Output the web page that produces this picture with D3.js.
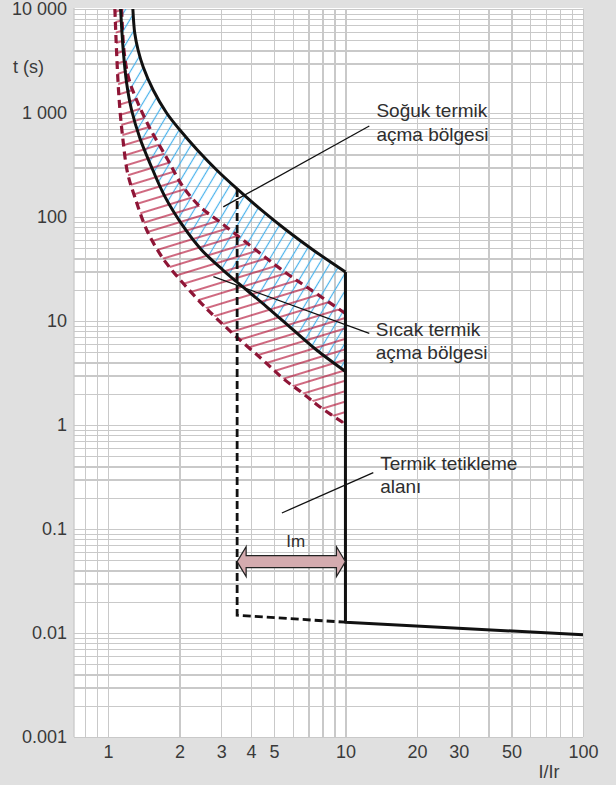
<!DOCTYPE html>
<html>
<head>
<meta charset="utf-8">
<title>Termik açma eğrisi</title>
<script src="https://cdn.jsdelivr.net/npm/d3@7/dist/d3.min.js"></script>
<style>
    body { margin: 0; background: #e0e0e0; }
    svg { display: block; font-family: "Liberation Sans", Arial, sans-serif; }
    .grid line { stroke: #c9c9c9; stroke-width: 1.3; shape-rendering: crispEdges; }
    .grid path { display: none; }
    .axis path, .axis line { display: none; }
    .axis text { font-size: 18px; fill: #3a3a3a; font-family: "Liberation Sans", Arial, sans-serif; }
    .note { font-size: 19px; fill: #2e2e2e; }
</style>
</head>
<body>
<script>
// eksenler
const xDomain = [0.72, 100];
const yDomain = [0.001, 10000];
const xTicks = [1, 2, 3, 4, 5, 10, 20, 30, 50, 100];
const xTickLabels = ["1", "2", "3", "4", "5", "10", "20", "30", "50", "100"];
const yTicks = [0.001, 0.01, 0.1, 1, 10, 100, 1000, 10000];
const yTickLabels = ["0.001", "0.01", "0.1", "1", "10", "100", "1 000", "10 000"];

// soğuk termik açma bölgesi (siyah eğriler)
const coldUpperI = [1.274, 1.297, 1.34, 1.408, 1.551, 1.767, 2.01, 2.38, 2.87, 3.5, 4.42, 5.63, 7.31, 10];
const coldUpperT = [10000, 5880, 4035, 2770, 1664, 1000, 686, 441, 283, 186, 117, 75, 48.2, 29.6];
const coldLowerI = [1.131, 1.16, 1.199, 1.258, 1.363, 1.502, 1.738, 2.08, 2.48, 3.05, 3.48, 4.66, 6.03, 7.56, 10];
const coldLowerT = [10000, 4035, 1942, 1069, 575, 330, 157, 80.7, 48.2, 30.9, 23.9, 13.7, 8.2, 5.26, 3.27];

// sıcak termik açma bölgesi (kırmızı kesikli eğriler)
const hotUpperI = [1.142, 1.168, 1.214, 1.278, 1.478, 1.789, 2.07, 2.44, 2.96, 3.85, 5.55, 7.16, 10];
const hotUpperT = [10000, 4035, 2317, 1603, 767, 353, 196, 126, 89.6, 56.2, 29.6, 19.9, 11.8];
const hotLowerI = [1.07, 1.087, 1.104, 1.124, 1.155, 1.21, 1.298, 1.457, 1.646, 1.815, 2.44, 2.83, 3.41, 4.49, 5.54, 6.61, 7.79, 10];
const hotLowerT = [10000, 4035, 1942, 1069, 575, 265, 155.6, 75, 45.1, 33, 15.3, 10.9, 7.33, 4.22, 2.73, 2.02, 1.5, 1.02];

// anlık açma (Im)
const instI = [10, 10, 100];
const instT = [29.6, 0.0127, 0.0096];
const imI = [3.5, 3.5, 10];
const imT = [186, 0.0148, 0.0127];
const imArrowT = 0.0485;

const W = 616, H = 785;
const mLeft = 74, mRight = 583, mTop = 9, mBottom = 737;

const svg = d3.select("body").append("svg")
    .attr("width", W)
    .attr("height", H);

const xScale = d3.scaleLog().domain(xDomain).range([mLeft, mRight]);
const yScale = d3.scaleLog().domain(yDomain).range([mBottom, mTop]);

const defs = svg.append("defs");
defs.append("clipPath").attr("id", "plotClip")
    .append("rect")
    .attr("x", mLeft).attr("y", mTop - 1)
    .attr("width", mRight - mLeft).attr("height", mBottom - mTop + 1);

// tarama desenleri
const blue = defs.append("pattern")
    .attr("id", "blueHatch")
    .attr("patternUnits", "userSpaceOnUse")
    .attr("width", 9).attr("height", 10)
    .attr("patternTransform", "rotate(31)");
blue.append("line")
    .attr("x1", 4.5).attr("y1", 0).attr("x2", 4.5).attr("y2", 10)
    .attr("stroke", "#4ab3ec").attr("stroke-width", 1.2);

const red = defs.append("pattern")
    .attr("id", "redHatch")
    .attr("patternUnits", "userSpaceOnUse")
    .attr("width", 10).attr("height", 10)
    .attr("patternTransform", "rotate(-17)");
red.append("line")
    .attr("x1", 0).attr("y1", 5).attr("x2", 10).attr("y2", 5)
    .attr("stroke", "#b5173a").attr("stroke-width", 1.3);

// çizim alanı
svg.append("rect")
    .attr("x", mLeft).attr("y", mTop - 1)
    .attr("width", mRight - mLeft).attr("height", mBottom - mTop + 1)
    .attr("fill", "#fff");

// ızgara
const xGrid = [];
[0.1, 1, 10].forEach(d => { for (let k = 1; k <= 9; k++) { const v = +(k * d).toPrecision(3); if (v >= 0.8 && v < 100) xGrid.push(v); } });
xGrid.push(100);
const yGrid = [];
[0.001, 0.01, 0.1, 1, 10, 100, 1000].forEach(d => { for (let k = 1; k <= 9; k++) yGrid.push(+(k * d).toPrecision(3)); });
yGrid.push(10000);

svg.append("g")
    .attr("class", "grid")
    .attr("transform", "translate(0," + mBottom + ")")
    .call(d3.axisBottom(xScale).tickValues(xGrid).tickSize(-(mBottom - mTop)).tickFormat(""));

svg.append("g")
    .attr("class", "grid")
    .attr("transform", "translate(" + mLeft + ",0)")
    .call(d3.axisLeft(yScale).tickValues(yGrid).tickSize(-(mRight - mLeft)).tickFormat(""));

svg.append("line")
    .attr("x1", mLeft).attr("x2", mLeft).attr("y1", mTop - 1).attr("y2", mBottom)
    .attr("stroke", "#c9c9c9").attr("stroke-width", 1.3);

// eğriler
const pts = (xs, ts) => xs.map((v, i) => [xScale(v), yScale(ts[i])]);
const curve = d3.line().curve(d3.curveCatmullRom.alpha(0.5));
const poly = d3.line();

function band(upper, lower) {
    const a = curve(upper);
    const b = curve(lower.slice().reverse());
    return a + "L" + b.slice(1) + "Z";
}

const coldUp = pts(coldUpperI, coldUpperT);
const coldLow = pts(coldLowerI, coldLowerT);
const hotUp = pts(hotUpperI, hotUpperT);
const hotLow = pts(hotLowerI, hotLowerT);

const plot = svg.append("g").attr("clip-path", "url(#plotClip)");

plot.append("path")
    .attr("d", band(coldUp, coldLow))
    .attr("fill", "url(#blueHatch)");

plot.append("path")
    .attr("d", band(hotUp, hotLow))
    .attr("fill", "url(#redHatch)");

[hotUp, hotLow].forEach(p => {
    plot.append("path")
        .attr("d", curve(p))
        .attr("fill", "none")
        .attr("stroke", "#8e1536")
        .attr("stroke-width", 3.2)
        .attr("stroke-dasharray", "8,5");
});

plot.append("path")
    .attr("d", poly(pts(imI, imT)))
    .attr("fill", "none")
    .attr("stroke", "#111")
    .attr("stroke-width", 2.8)
    .attr("stroke-dasharray", "8,4");

[coldUp, coldLow].forEach(p => {
    plot.append("path")
        .attr("d", curve(p))
        .attr("fill", "none")
        .attr("stroke", "#111")
        .attr("stroke-width", 3);
});

plot.append("path")
    .attr("d", poly(pts(instI, instT)))
    .attr("fill", "none")
    .attr("stroke", "#111")
    .attr("stroke-width", 3)
    .attr("stroke-linejoin", "round");

// Im oku
const ax0 = xScale(imI[0]), ax1 = xScale(imI[2]), ay = yScale(imArrowT);
const hl = 9, hw = 15, sw = 6;
svg.append("path")
    .attr("d", poly([
        [ax0, ay], [ax0 + hl, ay - hw], [ax0 + hl, ay - sw], [ax1 - hl, ay - sw], [ax1 - hl, ay - hw],
        [ax1, ay], [ax1 - hl, ay + hw], [ax1 - hl, ay + sw], [ax0 + hl, ay + sw], [ax0 + hl, ay + hw]
    ]) + "Z")
    .attr("fill", "#d4abaf")
    .attr("stroke", "#222")
    .attr("stroke-width", 1.2)
    .attr("stroke-linejoin", "miter");

svg.append("text")
    .attr("class", "note")
    .attr("x", xScale(6.17)).attr("y", yScale(0.0755))
    .attr("text-anchor", "middle")
    .attr("dominant-baseline", "central")
    .style("font-size", "17px")
    .text("Im");

// açıklamalar
const notes = [
    { lines: ["Soğuk termik", "açma bölgesi"], i: 13.5, t: 915, from: [3.06, 125], to: [12.6, 750], dy: 24 },
    { lines: ["Sıcak termik", "açma bölgesi"], i: 13.4, t: 7.18, from: [2.78, 26.7], to: [12.6, 7.62], dy: 23 },
    { lines: ["Termik tetikleme", "alanı"], i: 14.0, t: 0.369, from: [5.4, 0.1426], to: [13.1, 0.348], dy: 23 }
];

notes.forEach(n => {
    svg.append("line")
        .attr("x1", xScale(n.from[0])).attr("y1", yScale(n.from[1]))
        .attr("x2", xScale(n.to[0])).attr("y2", yScale(n.to[1]))
        .attr("stroke", "#111").attr("stroke-width", 1.3);
    const tx = svg.append("text")
        .attr("class", "note")
        .attr("x", xScale(n.i)).attr("y", yScale(n.t));
    n.lines.forEach((s, k) => {
        tx.append("tspan")
            .attr("x", xScale(n.i))
            .attr("dy", k === 0 ? 0 : n.dy)
            .text(s);
    });
});

// eksen etiketleri
svg.append("g")
    .attr("class", "axis")
    .attr("transform", "translate(0," + mBottom + ")")
    .call(d3.axisBottom(xScale).tickValues(xTicks).tickSize(0).tickPadding(8)
        .tickFormat((d, i) => xTickLabels[i]));

svg.append("g")
    .attr("class", "axis")
    .attr("transform", "translate(" + mLeft + ",0)")
    .call(d3.axisLeft(yScale).tickValues(yTicks).tickSize(0).tickPadding(7)
        .tickFormat((d, i) => yTickLabels[i]));

svg.append("text")
    .attr("x", 13).attr("y", 73)
    .style("font-size", "18px").attr("fill", "#3a3a3a")
    .text("t (s)");

svg.append("text")
    .attr("x", 549).attr("y", 778)
    .attr("text-anchor", "middle")
    .style("font-size", "18px").attr("fill", "#3a3a3a")
    .text("I/Ir");
</script>
</body>
</html>
